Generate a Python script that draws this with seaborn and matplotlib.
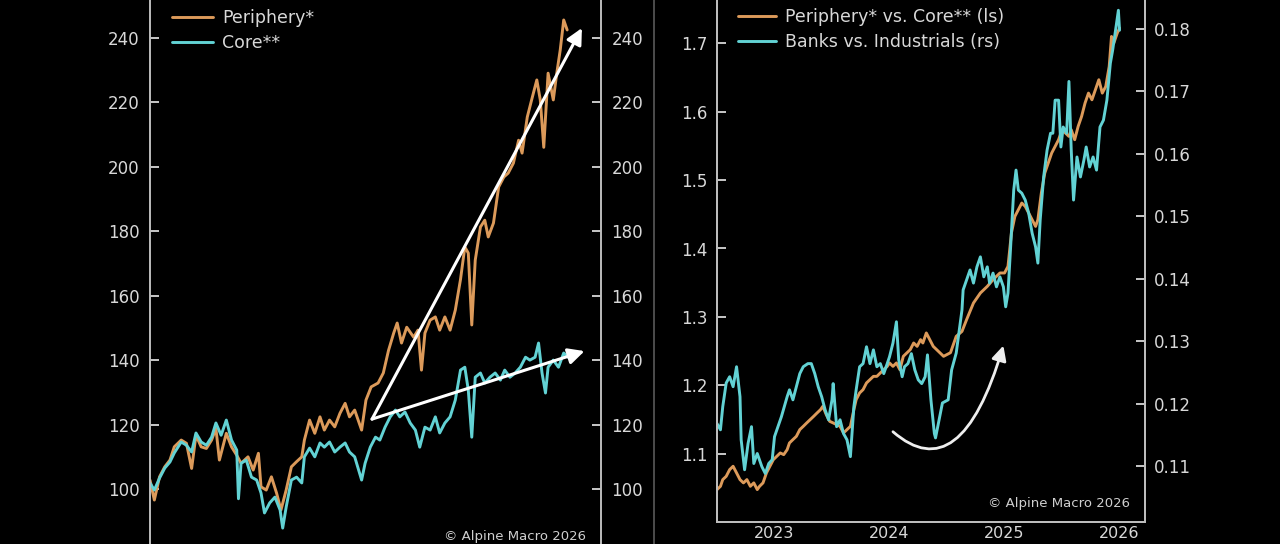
import numpy as np
import matplotlib
matplotlib.use('Agg')
import matplotlib.pyplot as plt
from matplotlib.lines import Line2D
import seaborn as sns

# Left panel: equity indices, rebased (x = fractional year)
core_x = [2021.00, 2021.05, 2021.11, 2021.17, 2021.23, 2021.28, 2021.36, 2021.42, 2021.48, 2021.53,
          2021.59, 2021.65, 2021.71, 2021.76, 2021.82, 2021.88, 2021.94, 2022.00, 2022.02, 2022.05,
          2022.11, 2022.17, 2022.23, 2022.28, 2022.32, 2022.38, 2022.44, 2022.50, 2022.53, 2022.57,
          2022.63, 2022.69, 2022.75, 2022.78, 2022.84, 2022.90, 2022.96, 2023.01, 2023.07, 2023.13,
          2023.19, 2023.25, 2023.30, 2023.36, 2023.44, 2023.48, 2023.54, 2023.60, 2023.65, 2023.71,
          2023.77, 2023.83, 2023.88, 2023.94, 2024.00, 2024.06, 2024.11, 2024.17, 2024.23, 2024.29,
          2024.34, 2024.40, 2024.46, 2024.52, 2024.58, 2024.63, 2024.67, 2024.71, 2024.75, 2024.81,
          2024.86, 2024.92, 2024.98, 2025.04, 2025.09, 2025.15, 2025.21, 2025.27, 2025.33, 2025.38,
          2025.44, 2025.48, 2025.52, 2025.56, 2025.59, 2025.65, 2025.71, 2025.77, 2025.82, 2025.86]
core_y = [101.9, 99.7, 103.4, 106.5, 108.4, 111.2, 114.6, 113.6, 111.5, 117.4,
          114.6, 113.6, 116.1, 120.5, 116.7, 121.4, 115.2, 112.1, 97.0, 108.0,
          109.0, 103.7, 102.8, 98.8, 92.6, 95.7, 97.5, 93.5, 87.9, 94.4,
          102.8, 103.7, 101.9, 110.0, 112.7, 110.0, 114.3, 113.0, 114.6, 111.5,
          113.0, 114.3, 111.5, 110.0, 102.8, 108.0, 113.0, 116.1, 115.2, 119.2,
          122.4, 124.5, 122.4, 123.9, 120.5, 118.3, 113.0, 119.2, 118.3, 122.4,
          117.4, 120.5, 122.4, 127.6, 136.9, 137.8, 130.7, 116.1, 134.7, 136.0,
          132.9, 134.7, 136.0, 133.8, 136.9, 134.7, 136.0, 137.8, 140.9, 140.0,
          140.9, 145.3, 136.0, 129.8, 137.8, 140.0, 137.8, 142.2, 140.9, 142.5]

periph_x = [2021.00, 2021.05, 2021.11, 2021.17, 2021.23, 2021.28, 2021.36, 2021.42, 2021.48, 2021.53,
            2021.59, 2021.65, 2021.71, 2021.76, 2021.80, 2021.88, 2021.94, 2022.00, 2022.05, 2022.13,
            2022.19, 2022.25, 2022.28, 2022.34, 2022.40, 2022.46, 2022.51, 2022.57, 2022.63, 2022.69,
            2022.75, 2022.78, 2022.84, 2022.90, 2022.96, 2023.01, 2023.07, 2023.13, 2023.19, 2023.25,
            2023.30, 2023.36, 2023.44, 2023.49, 2023.55, 2023.63, 2023.69, 2023.75, 2023.81, 2023.85,
            2023.90, 2023.96, 2024.04, 2024.09, 2024.13, 2024.17, 2024.23, 2024.29, 2024.34, 2024.40,
            2024.46, 2024.52, 2024.58, 2024.63, 2024.67, 2024.71, 2024.75, 2024.81, 2024.86, 2024.90,
            2024.96, 2025.02, 2025.08, 2025.13, 2025.19, 2025.25, 2025.29, 2025.35, 2025.40, 2025.46,
            2025.50, 2025.54, 2025.59, 2025.65, 2025.69, 2025.73, 2025.77, 2025.81]
periph_y = [102.8, 96.6, 103.8, 106.9, 109.0, 113.1, 115.2, 114.2, 106.4, 116.7,
            113.1, 112.6, 115.2, 118.8, 109.0, 117.3, 113.1, 110.5, 108.0, 110.0,
            105.9, 111.1, 100.7, 99.7, 103.8, 98.7, 93.5, 99.7, 106.9, 108.5,
            110.0, 115.2, 121.4, 117.3, 122.4, 118.3, 121.4, 119.3, 123.5, 126.6,
            122.4, 124.5, 118.3, 127.6, 131.7, 132.9, 136.0, 143.0, 148.4, 151.5,
            145.3, 150.2, 147.1, 149.3, 136.9, 148.4, 152.4, 153.4, 149.3, 153.4,
            149.3, 155.5, 165.0, 175.1, 173.2, 150.9, 171.0, 181.3, 183.4, 178.2,
            182.5, 193.7, 196.8, 198.0, 201.1, 208.2, 204.2, 215.4, 220.7, 226.9,
            220.7, 206.0, 229.0, 220.7, 229.0, 236.2, 245.5, 242.4]

# Right panel: Periphery vs Core ratio (left scale)
ratio_x = [2022.50, 2022.53, 2022.55, 2022.58, 2022.61, 2022.64, 2022.67, 2022.70, 2022.73, 2022.76,
           2022.79, 2022.82, 2022.85, 2022.87, 2022.90, 2022.93, 2022.96, 2022.99, 2023.02, 2023.05,
           2023.08, 2023.11, 2023.13, 2023.16, 2023.19, 2023.22, 2023.25, 2023.28, 2023.31, 2023.34,
           2023.37, 2023.40, 2023.42, 2023.45, 2023.48, 2023.51, 2023.54, 2023.57, 2023.60, 2023.63,
           2023.66, 2023.69, 2023.71, 2023.74, 2023.77, 2023.80, 2023.83, 2023.86, 2023.89, 2023.92,
           2023.95, 2023.98, 2024.00, 2024.03, 2024.06, 2024.09, 2024.12, 2024.15, 2024.18, 2024.21,
           2024.24, 2024.27, 2024.29, 2024.32, 2024.35, 2024.38, 2024.47, 2024.53, 2024.58, 2024.63,
           2024.67, 2024.73, 2024.79, 2024.85, 2024.90, 2024.96, 2025.00, 2025.03, 2025.06, 2025.09,
           2025.12, 2025.15, 2025.18, 2025.21, 2025.24, 2025.27, 2025.29, 2025.32, 2025.35, 2025.38,
           2025.41, 2025.44, 2025.47, 2025.50, 2025.53, 2025.56, 2025.58, 2025.61, 2025.64, 2025.67,
           2025.70, 2025.73, 2025.76, 2025.79, 2025.82, 2025.85, 2025.88, 2025.91, 2025.93, 2025.95,
           2025.98, 2026.00]
ratio_y = [1.0474, 1.0522, 1.0620, 1.0668, 1.0766, 1.0815, 1.0718, 1.0620, 1.0572, 1.0620,
           1.0522, 1.0572, 1.0474, 1.0522, 1.0572, 1.0718, 1.0815, 1.0912, 1.0961, 1.1010,
           1.0985, 1.1058, 1.1156, 1.1205, 1.1253, 1.1351, 1.1399, 1.1449, 1.1497, 1.1545,
           1.1595, 1.1643, 1.1692, 1.1570, 1.1472, 1.1449, 1.1424, 1.1399, 1.1303, 1.1351,
           1.1399, 1.1643, 1.1789, 1.1887, 1.1936, 1.2034, 1.2082, 1.2130, 1.2130, 1.2180,
           1.2228, 1.2276, 1.2326, 1.2276, 1.2326, 1.2228, 1.2423, 1.2472, 1.2520, 1.2618,
           1.2569, 1.2667, 1.2618, 1.2765, 1.2667, 1.2569, 1.2423, 1.2476, 1.2715, 1.2788,
           1.2959, 1.3203, 1.3349, 1.3446, 1.3544, 1.3642, 1.3642, 1.3738, 1.4227, 1.4469,
           1.4567, 1.4665, 1.4616, 1.4519, 1.4421, 1.4323, 1.4421, 1.4811, 1.5104, 1.5250,
           1.5396, 1.5493, 1.5591, 1.5737, 1.5688, 1.5640, 1.5737, 1.5591, 1.5785, 1.5931,
           1.6127, 1.6273, 1.6175, 1.6322, 1.6468, 1.6273, 1.6369, 1.6662, 1.7101, 1.7003,
           1.7150, 1.7223]

# Right panel: Banks vs Industrials (right scale)
banks_x = [2022.50, 2022.53, 2022.55, 2022.58, 2022.61, 2022.64, 2022.67, 2022.70, 2022.71, 2022.74,
           2022.77, 2022.80, 2022.82, 2022.85, 2022.89, 2022.92, 2022.95, 2022.98, 2023.00, 2023.03,
           2023.06, 2023.11, 2023.13, 2023.16, 2023.19, 2023.22, 2023.25, 2023.29, 2023.32, 2023.35,
           2023.38, 2023.41, 2023.44, 2023.47, 2023.50, 2023.51, 2023.54, 2023.57, 2023.60, 2023.63,
           2023.66, 2023.69, 2023.71, 2023.74, 2023.77, 2023.80, 2023.83, 2023.86, 2023.89, 2023.92,
           2023.95, 2023.98, 2024.00, 2024.03, 2024.06, 2024.08, 2024.11, 2024.13, 2024.16, 2024.19,
           2024.22, 2024.25, 2024.28, 2024.31, 2024.33, 2024.36, 2024.39, 2024.40, 2024.46, 2024.51,
           2024.54, 2024.58, 2024.63, 2024.64, 2024.67, 2024.70, 2024.73, 2024.76, 2024.79, 2024.82,
           2024.85, 2024.87, 2024.90, 2024.93, 2024.96, 2024.99, 2025.01, 2025.03, 2025.05, 2025.08,
           2025.10, 2025.12, 2025.15, 2025.18, 2025.21, 2025.24, 2025.27, 2025.29, 2025.31, 2025.34,
           2025.37, 2025.40, 2025.42, 2025.44, 2025.47, 2025.49, 2025.51, 2025.54, 2025.56, 2025.58,
           2025.60, 2025.63, 2025.66, 2025.69, 2025.71, 2025.74, 2025.77, 2025.80, 2025.83, 2025.86,
           2025.89, 2025.92, 2025.94, 2025.97, 2025.99, 2026.00]
banks_y = [0.1168, 0.1158, 0.1195, 0.1233, 0.1243, 0.1227, 0.1259, 0.1211, 0.1142, 0.1094,
           0.1136, 0.1163, 0.1104, 0.1120, 0.1099, 0.1088, 0.1104, 0.1110, 0.1147, 0.1163,
           0.1179, 0.1211, 0.1222, 0.1206, 0.1227, 0.1248, 0.1259, 0.1264, 0.1264, 0.1248,
           0.1227, 0.1211, 0.1190, 0.1174, 0.1206, 0.1232, 0.1163, 0.1174, 0.1152, 0.1142,
           0.1115, 0.1195, 0.1222, 0.1259, 0.1264, 0.1291, 0.1264, 0.1286, 0.1259, 0.1264,
           0.1248, 0.1264, 0.1275, 0.1297, 0.1331, 0.1270, 0.1243, 0.1259, 0.1264, 0.1280,
           0.1254, 0.1238, 0.1232, 0.1243, 0.1278, 0.1206, 0.1152, 0.1145, 0.1201, 0.1206,
           0.1254, 0.1281, 0.1350, 0.1382, 0.1398, 0.1414, 0.1393, 0.1419, 0.1435, 0.1403,
           0.1419, 0.1393, 0.1409, 0.1387, 0.1403, 0.1387, 0.1355, 0.1377, 0.1441, 0.1542,
           0.1574, 0.1542, 0.1537, 0.1526, 0.1505, 0.1473, 0.1451, 0.1425, 0.1494, 0.1563,
           0.1606, 0.1633, 0.1633, 0.1686, 0.1686, 0.1611, 0.1643, 0.1633, 0.1716, 0.1606,
           0.1526, 0.1595, 0.1563, 0.1590, 0.1611, 0.1579, 0.1595, 0.1574, 0.1643, 0.1654,
           0.1686, 0.1745, 0.1766, 0.1804, 0.1830, 0.1798]

left_yticks = [100, 120, 140, 160, 180, 200, 220, 240]
ratio_ticks = [1.1, 1.2, 1.3, 1.4, 1.5, 1.6, 1.7]
banks_ticks = [0.11, 0.12, 0.13, 0.14, 0.15, 0.16, 0.17, 0.18]
year_labels = [2023, 2024, 2025, 2026]
mid_year_ticks = [2022.5, 2023.5, 2024.5, 2025.5]

# annotation arrows (data coordinates)
arrow_base = (2023.56, 121.7)
arrow_periph_tip = (2025.98, 243.0)
arrow_core_tip = (2026.01, 142.8)
curve_start = (2024.03, 1.132)
curve_end = (2024.99, 1.258)

ORANGE = '#dc9a5a'
TEAL = '#62d2d4'
FG = '#d8d8d8'
SPINE = '#bdbdbd'

sns.set_theme(style='dark', rc={'axes.facecolor': 'black', 'figure.facecolor': 'black',
                                'text.color': FG, 'axes.edgecolor': SPINE,
                                'xtick.color': FG, 'ytick.color': FG})
plt.rcParams['font.family'] = ['DejaVu Sans']

W, H = 1280, 544
fig = plt.figure(figsize=(12.8, 5.44), dpi=100, facecolor='black')
ax_l = fig.add_axes([150 / W, -26 / H, 451 / W, 595 / H])
ax_r = fig.add_axes([717 / W, 22 / H, 427.5 / W, 547 / H])


def style(ax):
    ax.set_facecolor('black')
    ax.grid(False)
    for s in ax.spines.values():
        s.set_color(SPINE)
        s.set_linewidth(1.4)
    ax.tick_params(axis='both', which='both', colors=FG, labelsize=12,
                   direction='in', width=1.3, length=6.5)
    ax.set_xlabel('')
    ax.set_ylabel('')


# ---- left panel ----
sns.lineplot(x=periph_x, y=periph_y, ax=ax_l, color=ORANGE, linewidth=2.1,
             label='Periphery*', legend=False, estimator=None, sort=False)
sns.lineplot(x=core_x, y=core_y, ax=ax_l, color=TEAL, linewidth=2.1,
             label='Core**', legend=False, estimator=None, sort=False)
style(ax_l)
ax_l.set_xlim(2021.0, 2026.2)
ax_l.set_ylim(74.9, 259.45)
ax_l.set_yticks(left_yticks)
ax_l.set_xticks([])
ax_l.spines['top'].set_visible(False)
ax_l.spines['bottom'].set_visible(False)
ax_l.tick_params(axis='y', left=True, right=True, labelleft=True, labelright=True, pad=7.5)

for tip in (arrow_periph_tip, arrow_core_tip):
    ax_l.annotate('', xy=tip, xytext=arrow_base, zorder=6,
                  arrowprops=dict(arrowstyle='-|>', color='white', lw=2.2,
                                  mutation_scale=24, shrinkA=0, shrinkB=0))

h, lab = ax_l.get_legend_handles_labels()
leg = ax_l.legend(h, lab, loc='upper left', bbox_to_anchor=(0.049, 0.9429), frameon=False,
                  fontsize=12.5, handlelength=2.36, handletextpad=0.5,
                  labelspacing=0.41, borderpad=0, borderaxespad=0)
for t in leg.get_texts():
    t.set_color(FG)

ax_l.text(0.967, 0.0555, '\u00a9 Alpine Macro 2026', transform=ax_l.transAxes,
          ha='right', va='center', fontsize=9.5, color='#cfcfcf')

# ---- right panel ----
ax_r2 = ax_r.twinx()
sns.lineplot(x=ratio_x, y=ratio_y, ax=ax_r, color=ORANGE, linewidth=2.1,
             label='Periphery* vs. Core** (ls)', legend=False, estimator=None, sort=False)
sns.lineplot(x=banks_x, y=banks_y, ax=ax_r2, color=TEAL, linewidth=2.1,
             label='Banks vs. Industrials (rs)', legend=False, estimator=None, sort=False)
style(ax_r)
style(ax_r2)
ax_r2.patch.set_visible(False)
ax_r.set_xlim(2022.5, 2026.217)
ax_r.set_ylim(1.0, 1.8)
ax_r2.set_ylim(0.10103, 0.18865)
ax_r.spines['top'].set_visible(False)
ax_r2.spines['top'].set_visible(False)

ax_r.set_yticks(ratio_ticks)
ax_r.set_yticklabels([f'{v:.1f}' for v in ratio_ticks])
ax_r2.set_yticks(banks_ticks)
ax_r2.set_yticklabels([f'{v:.2f}' for v in banks_ticks])
ax_r.tick_params(axis='y', pad=7)
ax_r2.tick_params(axis='y', pad=7)

ax_r.set_xticks(mid_year_ticks)
ax_r.set_xticklabels([''] * len(mid_year_ticks))
ax_r.set_xticks(year_labels, minor=True)
ax_r.set_xticklabels([str(y) for y in year_labels], minor=True)
ax_r.tick_params(axis='x', which='major', length=7)
ax_r.tick_params(axis='x', which='minor', length=0, pad=3, labelsize=11.5)

ax_r.annotate('', xy=curve_end, xytext=curve_start, zorder=6,
              arrowprops=dict(arrowstyle='-|>', color='#eeeeee', lw=2.0, mutation_scale=22,
                              shrinkA=0, shrinkB=0,
                              connectionstyle='angle3,angleA=-41,angleB=73.5'))

h1, l1 = ax_r.get_legend_handles_labels()
h2, l2 = ax_r2.get_legend_handles_labels()
leg2 = ax_r2.legend(h1 + h2, l1 + l2, loc='upper left', bbox_to_anchor=(0.049, 0.9397),
                    frameon=False, fontsize=12.5, handlelength=2.2,
                    handletextpad=0.5, labelspacing=0.41, borderpad=0, borderaxespad=0)
for t in leg2.get_texts():
    t.set_color(FG)

ax_r2.text(0.966, 0.0347, '\u00a9 Alpine Macro 2026', transform=ax_r2.transAxes,
           ha='right', va='center', fontsize=9.5, color='#cfcfcf')

# thin frame edge between the two chart images
fig.add_artist(Line2D([654 / W, 654 / W], [0, 1], transform=fig.transFigure,
                      color='#5a5a5a', linewidth=1.2))

fig.savefig('out.png', dpi=100, facecolor='black')
